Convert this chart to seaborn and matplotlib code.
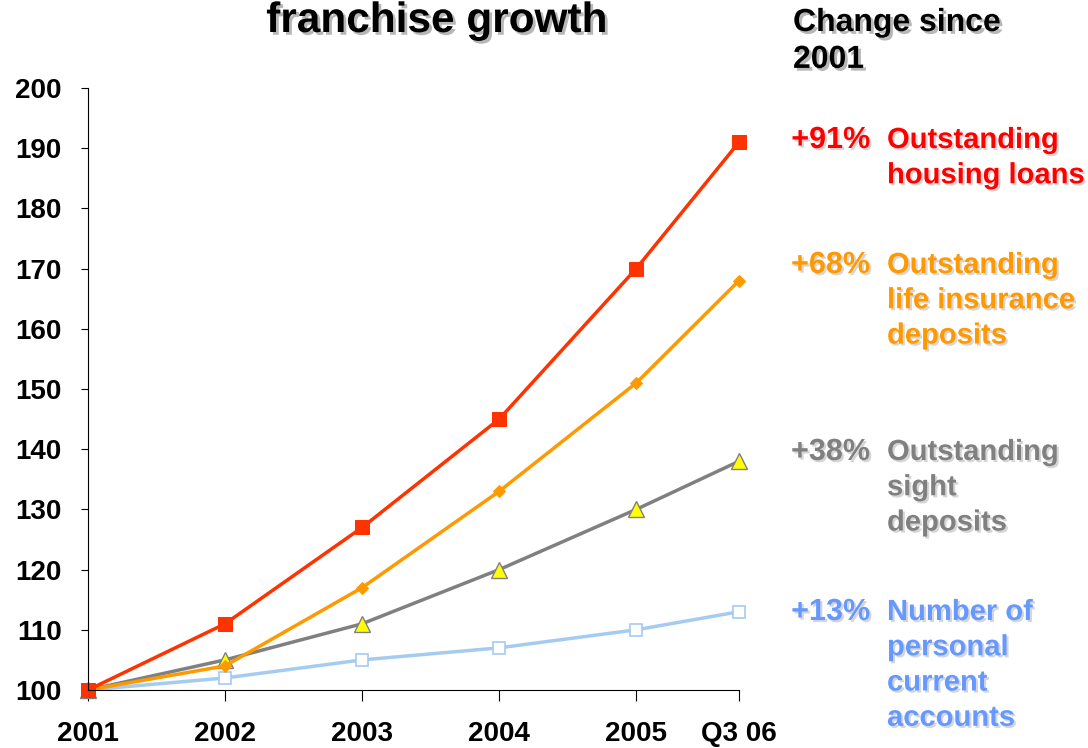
import matplotlib
matplotlib.use("Agg")
import matplotlib.pyplot as plt
import matplotlib.patheffects as pe
import seaborn as sns
import pandas as pd
import numpy as np

# ---- data ----
periods = ["2001", "2002", "2003", "2004", "2005", "Q3 06"]
period_pos = [0, 1, 2, 3, 4, 4.75]
housing_loans = [100, 111, 127, 145, 170, 191]
life_insurance = [100, 104, 117, 133, 151, 168]
sight_deposits = [100, 105, 111, 120, 130, 138]
current_accounts = [100, 102, 105, 107, 110, 113]
changes = ["+91%", "+68%", "+38%", "+13%"]
labels = ["Outstanding\nhousing loans",
          "Outstanding\nlife insurance\ndeposits",
          "Outstanding\nsight\ndeposits",
          "Number of\npersonal\ncurrent\naccounts"]
y_ticks = list(range(100, 201, 10))

sns.set_theme(style="white")
plt.rcParams['font.family'] = ['Liberation Sans', 'DejaVu Sans']
plt.rcParams['font.weight'] = 'bold'

W, H = 1088, 748
fig = plt.figure(figsize=(W / 100, H / 100), dpi=100)
ax = fig.add_axes([88 / W, 1 - 690 / H, (739 - 88) / W, (690 - 88) / H])

series = [
    (housing_loans, dict(color="#FF3300", marker="s", markersize=9.5, markerfacecolor="#FF3300",
                         markeredgecolor="#FF3300")),
    (life_insurance, dict(color="#FF9900", marker="D", markersize=6.5, markerfacecolor="#FF9900",
                          markeredgecolor="#FF9900")),
    (sight_deposits, dict(color="#808080", marker="^", markersize=12, markerfacecolor="#FFFF00",
                          markeredgecolor="#808080", markeredgewidth=1)),
    (current_accounts, dict(color="#A6CBF0", marker="s", markersize=9, markerfacecolor="white",
                            markeredgecolor="#A6CBF0", markeredgewidth=1.2)),
]
for vals, kw in reversed(series):
    df = pd.DataFrame({"x": period_pos, "y": vals})
    sns.lineplot(data=df, x="x", y="y", ax=ax, linewidth=2.5, clip_on=False, **kw)

ax.set_xlim(0, 4.75)
ax.set_ylim(100, 200)
ax.set_xticks(period_pos)
ax.set_xticklabels(periods)
ax.set_yticks(y_ticks)
ax.set_xlabel("")
ax.set_ylabel("")
for s in ["top", "right"]:
    ax.spines[s].set_visible(False)
for s in ["left", "bottom"]:
    ax.spines[s].set_color("black")
    ax.spines[s].set_linewidth(0.8)
ax.tick_params(axis="x", direction="out", length=8, width=0.8, color="black", pad=14,
               labelsize=20)
ax.tick_params(axis="y", direction="out", length=5, width=0.8, color="black", pad=14,
               labelsize=20)
ax.tick_params(bottom=True, left=True)
for t in ax.get_xticklabels() + ax.get_yticklabels():
    t.set_fontweight("bold")
    t.set_color("black")

shadow = [pe.SimplePatchShadow(offset=(2, -2), shadow_rgbFace="#999999", alpha=0.7), pe.Normal()]
light_shadow = [pe.SimplePatchShadow(offset=(1.5, -1.5), shadow_rgbFace="#bbbbbb", alpha=0.6), pe.Normal()]

fig.text(437 / W, 1 - 1 / H, "franchise growth", ha="center", va="top", fontsize=30.5,
         fontweight="bold", color="black", path_effects=shadow)
fig.text(793 / W, 1 - 8 / H, "Change since\n2001", ha="left", va="top", fontsize=23,
         fontweight="bold", color="black", linespacing=1.3, path_effects=shadow)

text_colors = ["#FF0000", "#FF9900", "#808080", "#6699FF"]
tops = [126, 251, 438, 598]
for chg, lab, col, top in zip(changes, labels, text_colors, tops):
    fig.text(870 / W, 1 - (top - 1) / H, chg, ha="right", va="top", fontsize=22,
             fontweight="bold", color=col, path_effects=light_shadow)
    fig.text(887 / W, 1 - top / H, lab, ha="left", va="top", fontsize=21,
             fontweight="bold", color=col, linespacing=1.33, path_effects=light_shadow)

fig.savefig("out.png", dpi=100, facecolor="white")
